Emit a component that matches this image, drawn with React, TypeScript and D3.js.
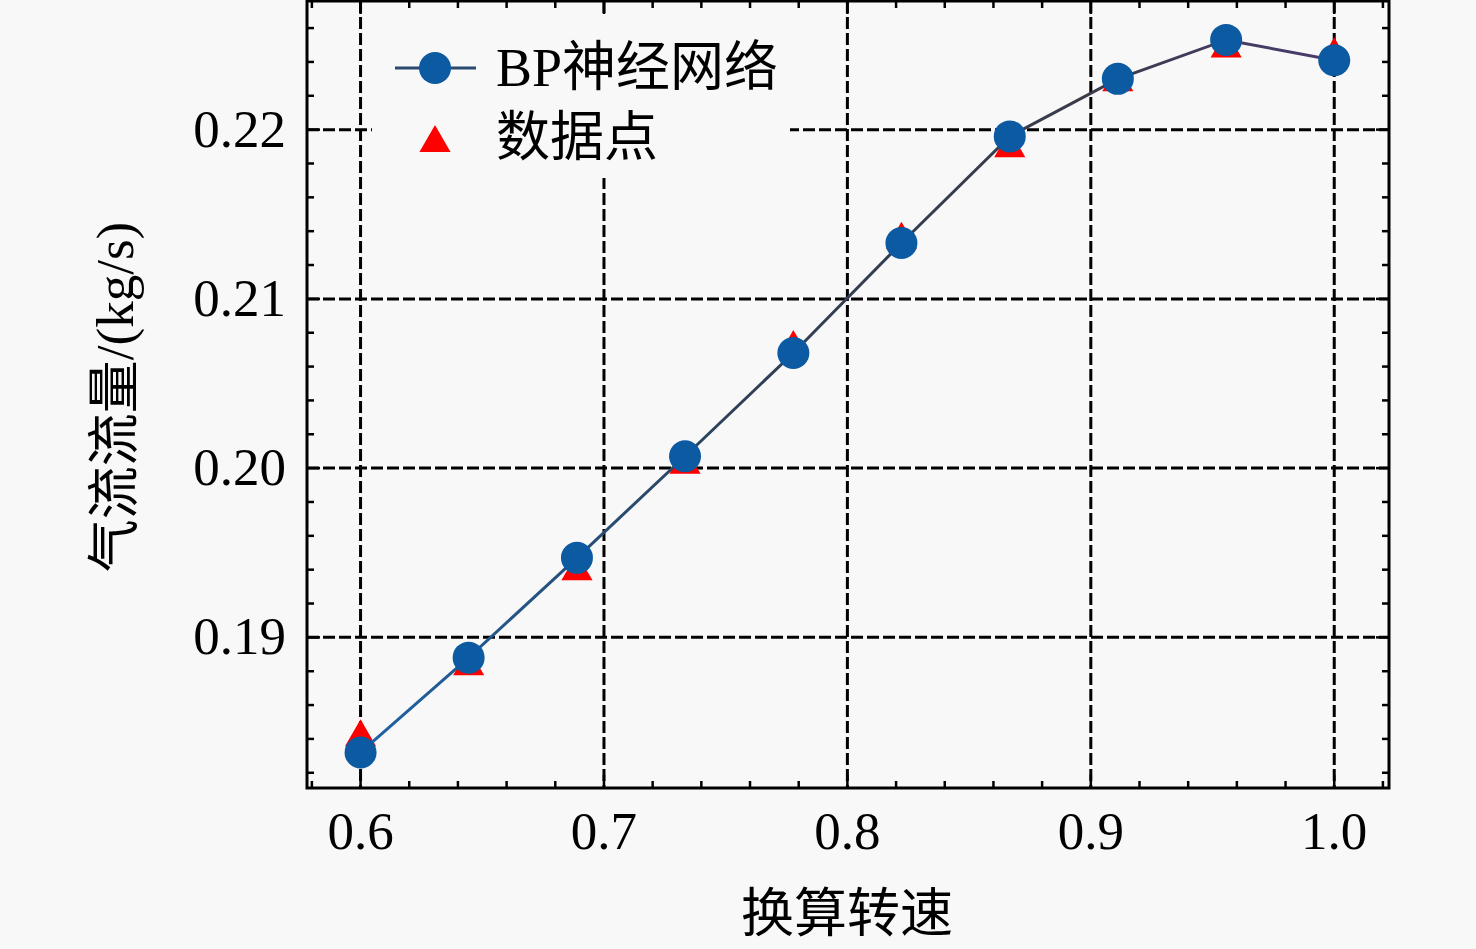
import React, { useEffect, useRef } from 'react';
import * as d3 from 'd3';

const speeds = [0.6, 0.6444, 0.6889, 0.7333, 0.7778, 0.8222, 0.8667, 0.9111, 0.9556, 1.0];
const bpValues = [0.1832, 0.1888, 0.1947, 0.2007, 0.2068, 0.2133, 0.2196, 0.2230, 0.2253, 0.2241];
const dataValues = [0.1841, 0.1883, 0.1939, 0.2002, 0.2071, 0.2135, 0.2189, 0.2228, 0.2248, 0.2244];

const xTicks = [0.6, 0.7, 0.8, 0.9, 1.0];
const xMinor = [0.58, 0.62, 0.64, 0.66, 0.68, 0.72, 0.74, 0.76, 0.78, 0.82, 0.84, 0.86, 0.88, 0.92, 0.94, 0.96, 0.98, 1.02];
const yTicks = [0.19, 0.2, 0.21, 0.22];
const yMinor = [0.182, 0.184, 0.186, 0.188, 0.192, 0.194, 0.196, 0.198, 0.202, 0.204, 0.206, 0.208,
  0.212, 0.214, 0.216, 0.218, 0.222, 0.224, 0.226];

const legendLabels = ['BP神经网络', '数据点'];

const BG = '#f8f8f8';
const FONT = '"Liberation Serif", "Times New Roman", "Noto Sans CJK SC", serif';

export default function App() {
  const ref = useRef<SVGSVGElement>(null);

  useEffect(() => {
    if (!ref.current) return;
    const width = 1476;
    const height = 949;
    const left = 307, right = 1389, top = 1, bottom = 788;

    const svg = d3.select(ref.current);
    svg.selectAll('*').remove();

    svg.append('rect').attr('width', width).attr('height', height).attr('fill', BG);

    const x = d3.scaleLinear().domain([0.578, 1.0225]).range([left, right]);
    const y = d3.scaleLinear().domain([0.1811, 0.2276]).range([bottom, top]);

    // grid
    const grid = svg.append('g')
      .attr('stroke', '#000')
      .attr('stroke-width', 3)
      .attr('stroke-dasharray', '12,4');
    grid.selectAll('.gx').data(xTicks).enter().append('line')
      .attr('x1', d => x(d)).attr('x2', d => x(d))
      .attr('y1', top).attr('y2', bottom);
    grid.selectAll('.gy').data(yTicks).enter().append('line')
      .attr('y1', d => y(d)).attr('y2', d => y(d))
      .attr('x1', left).attr('x2', right);

    // legend background hides grid
    svg.append('rect')
      .attr('x', 372).attr('y', 14).attr('width', 418).attr('height', 164)
      .attr('fill', BG);

    // ticks on all four sides, pointing inward
    const tk = svg.append('g').attr('stroke', '#000').attr('stroke-width', 2.5);
    const addX = (vals: number[], len: number) => {
      vals.forEach(v => {
        tk.append('line').attr('x1', x(v)).attr('x2', x(v)).attr('y1', bottom).attr('y2', bottom - len);
        tk.append('line').attr('x1', x(v)).attr('x2', x(v)).attr('y1', top).attr('y2', top + len);
      });
    };
    const addY = (vals: number[], len: number) => {
      vals.forEach(v => {
        tk.append('line').attr('y1', y(v)).attr('y2', y(v)).attr('x1', left).attr('x2', left + len);
        tk.append('line').attr('y1', y(v)).attr('y2', y(v)).attr('x1', right).attr('x2', right - len);
      });
    };
    addX(xTicks, 13);
    addX(xMinor, 7);
    addY(yTicks, 13);
    addY(yMinor, 7);

    // frame
    svg.append('rect')
      .attr('x', left).attr('y', top).attr('width', right - left).attr('height', bottom - top)
      .attr('fill', 'none').attr('stroke', '#000').attr('stroke-width', 3);

    // tick labels
    svg.append('g').selectAll('text').data(xTicks).enter().append('text')
      .attr('x', d => x(d)).attr('y', 849)
      .attr('text-anchor', 'middle')
      .style('font-family', FONT).style('font-size', '53px').attr('fill', '#000')
      .text(d => d3.format('.1f')(d));
    svg.append('g').selectAll('text').data(yTicks).enter().append('text')
      .attr('x', 286).attr('y', d => y(d) + 17)
      .attr('text-anchor', 'end')
      .style('font-family', FONT).style('font-size', '53px').attr('fill', '#000')
      .text(d => d3.format('.2f')(d));

    // axis titles
    svg.append('text')
      .attr('x', 847).attr('y', 932).attr('text-anchor', 'middle')
      .style('font-family', FONT).style('font-size', '53px').attr('fill', '#000')
      .text('换算转速');
    svg.append('text')
      .attr('transform', 'translate(133,397) rotate(-90)')
      .attr('text-anchor', 'middle')
      .style('font-family', FONT).style('font-size', '53px').attr('fill', '#000')
      .text('气流流量/(kg/s)');

    // line gradient
    const defs = svg.append('defs');
    const grad = defs.append('linearGradient').attr('id', 'lineGrad')
      .attr('gradientUnits', 'userSpaceOnUse')
      .attr('x1', x(0.6)).attr('x2', x(1.0)).attr('y1', 0).attr('y2', 0);
    grad.append('stop').attr('offset', '0%').attr('stop-color', '#1d63a6');
    grad.append('stop').attr('offset', '40%').attr('stop-color', '#2f3f55');
    grad.append('stop').attr('offset', '75%').attr('stop-color', '#3b3b4a');
    grad.append('stop').attr('offset', '100%').attr('stop-color', '#4a3c6e');

    const tri = d3.symbol().type(d3.symbolTriangle).size(420);
    const circleR = 16;

    // data points (triangles)
    svg.append('g').selectAll('path').data(speeds).enter().append('path')
      .attr('d', tri)
      .attr('transform', (d, i) => `translate(${x(d)},${y(dataValues[i])})`)
      .attr('fill', '#ff0000');

    // BP line
    const line = d3.line<number>().x(d => x(d)).y((d, i) => y(bpValues[i]));
    svg.append('path').datum(speeds)
      .attr('d', line)
      .attr('fill', 'none')
      .attr('stroke', 'url(#lineGrad)')
      .attr('stroke-width', 3);

    svg.append('g').selectAll('circle').data(speeds).enter().append('circle')
      .attr('cx', d => x(d)).attr('cy', (d, i) => y(bpValues[i]))
      .attr('r', circleR)
      .attr('fill', '#0b5aa2');

    // legend
    const lg = svg.append('g');
    lg.append('line').attr('x1', 395).attr('x2', 476).attr('y1', 68).attr('y2', 68)
      .attr('stroke', '#2a4a6e').attr('stroke-width', 3);
    lg.append('circle').attr('cx', 435).attr('cy', 68).attr('r', circleR).attr('fill', '#0b5aa2');
    lg.append('path').attr('d', tri).attr('transform', 'translate(435,143)').attr('fill', '#ff0000');
    lg.selectAll('text').data(legendLabels).enter().append('text')
      .attr('x', 496).attr('y', (d, i) => 86 + i * 70)
      .style('font-family', FONT).style('font-size', '54px').attr('fill', '#000')
      .text(d => d);
  }, []);

  return (
    <svg
      ref={ref}
      width={1476}
      height={949}
      style={{ position: 'absolute', left: 0, top: 0, display: 'block' }}
    />
  );
}
